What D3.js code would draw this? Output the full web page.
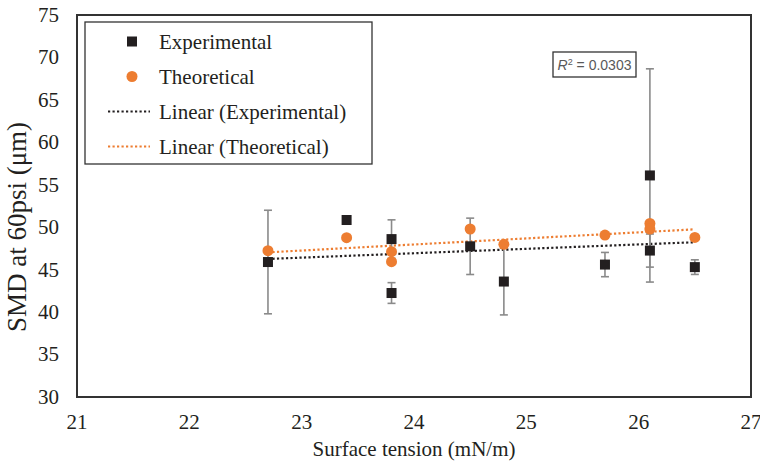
<!DOCTYPE html>
<html>
<head>
<meta charset="utf-8">
<script src="https://cdn.jsdelivr.net/npm/d3@7"></script>
<style>
  html, body { margin: 0; padding: 0; background: #fff; }
  svg { display: block; }
  svg text { font-family: "Liberation Serif", "Times New Roman", serif; fill: #231f20; }
</style>
</head>
<body>
<svg id="chart" width="760" height="462"></svg>
<script>
// Surface tension (mN/m) for each measurement
const expX   = [22.7, 23.4, 23.8, 23.8, 24.5, 24.8, 25.7, 26.1, 26.1, 26.5];
// Experimental SMD at 60 psi (µm) and its error (±)
const expY   = [45.9, 50.85, 48.6, 42.25, 47.75, 43.6, 45.6, 56.1, 47.25, 45.3];
const expErr = [6.1, 0, 2.27, 1.22, 3.32, 3.93, 1.43, 12.56, 1.95, 0.86];
// Theoretical SMD at 60 psi (µm)
const theoX  = [22.7, 23.4, 23.8, 23.8, 24.5, 24.8, 25.7, 26.1, 26.1, 26.5];
const theoY  = [47.24, 48.77, 47.12, 45.94, 49.79, 47.98, 49.08, 50.45, 49.79, 48.8];

const xTicks = [21, 22, 23, 24, 25, 26, 27];
const yTicks = [30, 35, 40, 45, 50, 55, 60, 65, 70, 75];
const legendLabels = ["Experimental", "Theoretical", "Linear (Experimental)", "Linear (Theoretical)"];
const rSquared = "0.0303";

const black = "#231f20", orange = "#ed7d31", errGray = "#8a8a8a";

const svg = d3.select("#chart");
const plotL = 77, plotR = 751, plotT = 15, plotB = 397;

const x = d3.scaleLinear().domain([21, 27]).range([plotL, plotR]);
const y = d3.scaleLinear().domain([30, 75]).range([plotB, plotT]);

// Least-squares trend line over the x-range of the data
function fit(xs, ys) {
  const mx = d3.mean(xs), my = d3.mean(ys);
  let sxy = 0, sxx = 0;
  xs.forEach((v, i) => { sxy += (v - mx) * (ys[i] - my); sxx += (v - mx) ** 2; });
  const b = sxy / sxx, a = my - b * mx;
  const [x0, x1] = d3.extent(xs);
  return [[x0, a + b * x0], [x1, a + b * x1]];
}

// Tick labels placed with the scales (the chart has no tick marks or gridlines)
svg.append("g").attr("class", "x-labels").selectAll("text").data(xTicks).join("text")
  .attr("x", d => x(d)).attr("y", plotB + 32).attr("text-anchor", "middle")
  .attr("font-size", 21).text(d => d);

svg.append("g").attr("class", "y-labels").selectAll("text").data(yTicks).join("text")
  .attr("x", plotL - 18).attr("y", d => y(d)).attr("dy", "0.33em").attr("text-anchor", "end")
  .attr("font-size", 21).text(d => d);

// Axis titles
svg.append("text").attr("x", (plotL + plotR) / 2).attr("y", 456)
  .attr("text-anchor", "middle").attr("font-size", 21).text("Surface tension (mN/m)");
svg.append("text").attr("transform", "translate(26,227) rotate(-90)")
  .attr("text-anchor", "middle").attr("font-size", 27).text("SMD at 60psi (μm)");

// Plot frame
svg.append("rect").attr("x", plotL).attr("y", plotT)
  .attr("width", plotR - plotL).attr("height", plotB - plotT)
  .attr("fill", "none").attr("stroke", "#333").attr("stroke-width", 2);

// Trend lines
const line = d3.line().x(d => x(d[0])).y(d => y(d[1]));
svg.append("path").datum(fit(expX, expY)).attr("d", line)
  .attr("fill", "none").attr("stroke", black).attr("stroke-width", 2.2)
  .attr("stroke-dasharray", "2.2 2.3");
svg.append("path").datum(fit(theoX, theoY)).attr("d", line)
  .attr("fill", "none").attr("stroke", orange).attr("stroke-width", 2.2)
  .attr("stroke-dasharray", "2.2 2.3");

// Error bars on the experimental series
const eb = svg.append("g").attr("stroke", errGray).attr("stroke-width", 1.6);
expX.forEach((v, i) => {
  if (!expErr[i]) return;
  const cx = x(v), y0 = y(expY[i] - expErr[i]), y1 = y(expY[i] + expErr[i]);
  eb.append("line").attr("x1", cx).attr("x2", cx).attr("y1", y0).attr("y2", y1);
  eb.append("line").attr("x1", cx - 4).attr("x2", cx + 4).attr("y1", y0).attr("y2", y0);
  eb.append("line").attr("x1", cx - 4).attr("x2", cx + 4).attr("y1", y1).attr("y2", y1);
});

// Experimental markers (squares)
const sq = 10;
svg.append("g").selectAll("rect").data(expX).join("rect")
  .attr("x", d => x(d) - sq / 2).attr("y", (d, i) => y(expY[i]) - sq / 2)
  .attr("width", sq).attr("height", sq).attr("fill", black);

// Theoretical markers (circles)
svg.append("g").selectAll("circle").data(theoX).join("circle")
  .attr("cx", d => x(d)).attr("cy", (d, i) => y(theoY[i])).attr("r", 5.5)
  .attr("fill", orange);

// R² annotation
const rg = svg.append("g");
rg.append("rect").attr("x", 553).attr("y", 52).attr("width", 83).attr("height", 25)
  .attr("fill", "#fff").attr("stroke", "#333").attr("stroke-width", 1.3);
const rt = rg.append("text").attr("x", 594.5).attr("y", 70).attr("text-anchor", "middle")
  .style("font-family", "'Liberation Sans', Arial, sans-serif", "important")
  .style("font-size", "14px").style("fill", "#595959", "important");
rt.append("tspan").style("font-style", "italic").text("R");
rt.append("tspan").attr("dy", -5).style("font-size", "9px").text("2");
rt.append("tspan").attr("dy", 5).text(" = " + rSquared);

// Legend
const lg = svg.append("g");
lg.append("rect").attr("x", 85).attr("y", 22).attr("width", 287).attr("height", 142)
  .attr("fill", "#fff").attr("stroke", "#333").attr("stroke-width", 1.3);
const rowY = [41.5, 76.5, 111.5, 146.5];
legendLabels.forEach((lab, i) => {
  const cy = rowY[i];
  if (i === 0) {
    lg.append("rect").attr("x", 132 - 5).attr("y", cy - 5).attr("width", 10).attr("height", 10).attr("fill", black);
  } else if (i === 1) {
    lg.append("circle").attr("cx", 132).attr("cy", cy).attr("r", 5.5).attr("fill", orange);
  } else {
    lg.append("line").attr("x1", 108).attr("x2", 150).attr("y1", cy).attr("y2", cy)
      .attr("stroke", i === 2 ? black : orange).attr("stroke-width", 2.2)
      .attr("stroke-dasharray", "2.2 2.3");
  }
  lg.append("text").attr("x", 159).attr("y", cy + 7).attr("font-size", 21).text(lab);
});
</script>
</body>
</html>
